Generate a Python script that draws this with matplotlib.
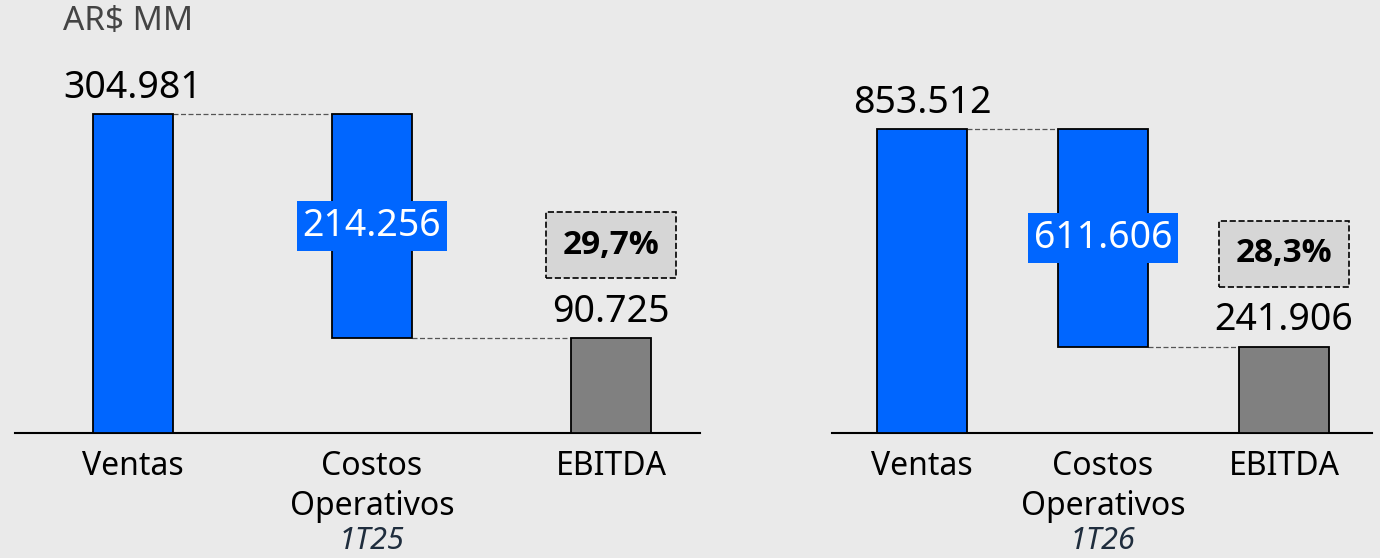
import matplotlib.pyplot as plt

plt.rcParams['font.family'] = ['Noto Sans', 'DejaVu Sans']

# datos (AR$ MM)
categorias = ['Ventas', 'Costos\nOperativos', 'EBITDA']
periodos = ['1T25', '1T26']
ventas = [304981, 853512]
costos = [214256, 611606]
ebitda = [90725, 241906]
margen = ['29,7%', '28,3%']

azul = '#0066FF'
gris = '#808080'
fondo = '#EAEAEA'

def fmt(v):
    return f'{v:,}'.replace(',', '.')

fig = plt.figure(figsize=(13.8, 5.58), dpi=100, facecolor=fondo)
W, H = 1380, 558

# layout of the two panels in pixels
paneles = [
    dict(x0=15, x1=700, centro0=133, paso=239, ancho=0.335, ytop=413930),
    dict(x0=832, x1=1372, centro0=922, paso=181, ancho=0.497, ytop=1215690),
]

for i, p in enumerate(paneles):
    ax = fig.add_axes([p['x0'] / W, 125 / H, (p['x1'] - p['x0']) / W, 433 / H])
    ax.set_facecolor(fondo)
    xmin = (p['x0'] - p['centro0']) / p['paso']
    xmax = (p['x1'] - p['centro0']) / p['paso']
    ax.set_xlim(xmin, xmax)
    ax.set_ylim(0, p['ytop'])
    w = p['ancho']

    v, c, e = ventas[i], costos[i], ebitda[i]
    ax.bar(0, v, width=w, color=azul, edgecolor='black', linewidth=1.3, zorder=3)
    ax.bar(1, c, bottom=v - c, width=w, color=azul, edgecolor='black', linewidth=1.3, zorder=3)
    ax.bar(2, e, width=w, color=gris, edgecolor='black', linewidth=1.3, zorder=3)

    # conectores
    ax.plot([w / 2, 1 - w / 2], [v, v], ls=(0, (4, 2)), color='#555555', lw=0.9, zorder=2)
    ax.plot([1 + w / 2, 2 - w / 2], [v - c, v - c], ls=(0, (4, 2)), color='#555555', lw=0.9, zorder=2)

    # etiquetas de valor
    ax.annotate(fmt(v), xy=(0, v), xytext=(0, 19), textcoords='offset points',
                ha='center', va='center', fontsize=27, color='black')
    ax.annotate(fmt(e), xy=(2, e), xytext=(0, 19), textcoords='offset points',
                ha='center', va='center', fontsize=27, color='black')
    ax.text(1, v - c / 2, fmt(c), ha='center', va='center', fontsize=27, color='white', zorder=4,
            bbox=dict(boxstyle='square,pad=0.15', facecolor=azul, edgecolor='none'))

    # margen EBITDA
    ax.annotate(margen[i], xy=(2, e), xytext=(0, 67), textcoords='offset points',
                ha='center', va='center', fontsize=24, fontweight='bold', color='black',
                family=['Open Sans', 'DejaVu Sans'],
                bbox=dict(boxstyle='square,pad=0.5', facecolor='#D6D6D6', edgecolor='black',
                          linestyle='--', linewidth=1.2))

    ax.set_xticks([0, 1, 2])
    ax.set_xticklabels(categorias, fontsize=23, linespacing=1.3)
    ax.tick_params(axis='x', length=0, pad=12)
    ax.set_yticks([])
    for s in ['top', 'right', 'left']:
        ax.spines[s].set_visible(False)
    ax.spines['bottom'].set_linewidth(1.5)

    ax.annotate(periodos[i], xy=(1, 0), xycoords=('data', 'axes fraction'),
                xytext=(0, -78), textcoords='offset points',
                ha='center', va='center', fontsize=22, fontstyle='italic', color='#1F2D3D')

fig.text(63 / W, 1 - 22 / H, 'AR$ MM', ha='left', va='center', fontsize=24, color='#444444')

fig.savefig('out.png', dpi=100, facecolor=fondo)
